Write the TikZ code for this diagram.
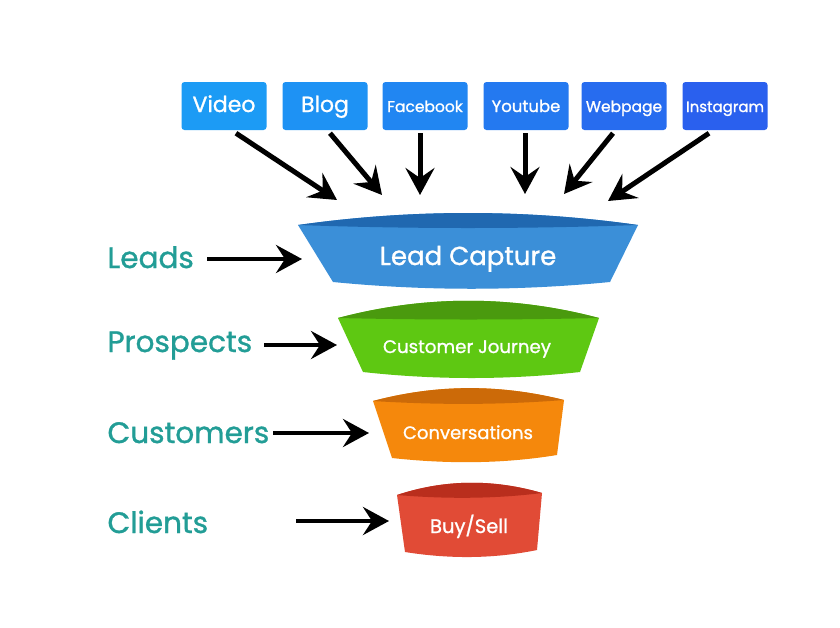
\documentclass[tikz,border=0pt]{standalone}
\usepackage{fontspec}
\setmainfont{Poppins}[FakeBold=1.1]
\usetikzlibrary{arrows.meta,calc}
\definecolor{c1}{RGB}{28,155,245}
\definecolor{c2}{RGB}{30,146,244}
\definecolor{c3}{RGB}{33,134,242}
\definecolor{c4}{RGB}{36,121,240}
\definecolor{c5}{RGB}{39,108,239}
\definecolor{c6}{RGB}{42,96,238}
\definecolor{blueBody}{RGB}{59,143,216}
\definecolor{blueTop}{RGB}{32,104,176}
\definecolor{greenBody}{RGB}{94,200,18}
\definecolor{greenTop}{RGB}{74,154,14}
\definecolor{orangeBody}{RGB}{245,136,12}
\definecolor{orangeTop}{RGB}{204,106,8}
\definecolor{redBody}{RGB}{225,75,54}
\definecolor{redTop}{RGB}{185,46,29}
\definecolor{teal}{RGB}{34,157,150}
\begin{document}
\begin{tikzpicture}[x=1pt,y=-1pt,
  srcbox/.style={fill=#1, rounded corners=3pt, minimum width=85pt, minimum height=48pt,
     text=white, inner sep=0pt, text height=14pt, text depth=2pt},
  toparr/.style={line width=5pt, -{Stealth[length=27pt,width=29pt,inset=10pt]}},
  sidearr/.style={line width=4pt, -{Stealth[length=26pt,width=28pt,inset=9pt]}},
  stage/.style={text=teal, anchor=base west, font=\fontsize{29.5}{30}\selectfont},
  flabel/.style={text=white, anchor=base}
]
\useasboundingbox (0,0) rectangle (840,627);
\fill[white] (0,0) rectangle (840,627);

% source boxes
\node[srcbox=c1, font=\fontsize{22}{22}\selectfont] (video) at (224,106) {Video};
\node[srcbox=c2, font=\fontsize{22}{22}\selectfont] (blog) at (325,106) {Blog};
\node[srcbox=c3, font=\fontsize{15.5}{16}\selectfont] (fb) at (425,106) {Facebook};
\node[srcbox=c4, font=\fontsize{16.5}{17}\selectfont] (yt) at (526,106) {Youtube};
\node[srcbox=c5, font=\fontsize{15.5}{16}\selectfont] (wp) at (624,106) {Webpage};
\node[srcbox=c6, font=\fontsize{15}{16}\selectfont] (ig) at (725,106) {Instagram};

% funnel segment 1
\fill[blueBody] (298,225) -- (333,282) .. controls (425,291) and (518,291) .. (610,282)
   -- (638,225) .. controls (525,209) and (411,209) .. (298,225) -- cycle;
\fill[blueTop] (298,225) .. controls (411,209) and (525,209) .. (638,225)
   .. controls (525,229) and (411,229) .. (298,225) -- cycle;
% funnel segment 2
\fill[greenBody] (338,318) -- (363,372) .. controls (435,380) and (508,380) .. (580,372)
   -- (599,318) .. controls (512,295) and (425,295) .. (338,318) -- cycle;
\fill[greenTop] (338,318) .. controls (425,295) and (512,295) .. (599,318)
   .. controls (512,320) and (425,320) .. (338,318) -- cycle;
% funnel segment 3
\fill[orangeBody] (373,401) -- (392,458) .. controls (447,464) and (502,464) .. (557,455)
   -- (564,400) .. controls (500,384) and (437,384) .. (373,401) -- cycle;
\fill[orangeTop] (373,401) .. controls (437,384) and (500,384) .. (564,400)
   .. controls (500,405) and (437,405) .. (373,401) -- cycle;
% funnel segment 4
\fill[redBody] (397,495) -- (405,552) .. controls (449,559) and (493,559) .. (537,550)
   -- (542,493) .. controls (494,479) and (445,479) .. (397,495) -- cycle;
\fill[redTop] (397,495) .. controls (445,479) and (494,479) .. (542,493)
   .. controls (494,499) and (445,499) .. (397,495) -- cycle;

% funnel labels
\node[flabel, font=\fontsize{26}{26}\selectfont] (lead) at (468,265) {Lead Capture};
\node[flabel, font=\fontsize{18.2}{19}\selectfont] (journey) at (467,353) {Customer Journey};
\node[flabel, font=\fontsize{18}{19}\selectfont] (conv) at (468,439) {Conversations};
\node[flabel, font=\fontsize{19.5}{20}\selectfont] (buy) at (469,533) {Buy/Sell};

% stage labels
\node[stage] (leads) at (104,268) {Leads};
\node[stage] (prospects) at (104,352) {Prospects};
\node[stage] (customers) at (104,443) {Customers};
\node[stage] (clients) at (104,533) {Clients};

% arrow coordinates
\coordinate (tv) at (337,200);
\coordinate (tb) at (382,195);
\coordinate (tf) at (420,195);
\coordinate (ty) at (525,194);
\coordinate (tw) at (564,194);
\coordinate (ti) at (608,201);
\coordinate (s1) at (207,259); \coordinate (e1) at (302,259);
\coordinate (s2) at (264,345); \coordinate (e2) at (337,345);
\coordinate (s3) at (273,433); \coordinate (e3) at (369,433);
\coordinate (s4) at (296,521); \coordinate (e4) at (389,521);

\draw[toparr] ($(video.south)+(12,3)$) -- (tv);
\draw[toparr] ($(blog.south)+(5,3)$) -- (tb);
\draw[toparr] ($(fb.south)+(-5,3)$) -- (tf);
\draw[toparr] ($(yt.south)+(-1,3)$) -- (ty);
\draw[toparr] ($(wp.south)+(-11,3)$) -- (tw);
\draw[toparr] ($(ig.south)+(-16,3)$) -- (ti);

\draw[sidearr] (s1) -- (e1);
\draw[sidearr] (s2) -- (e2);
\draw[sidearr] (s3) -- (e3);
\draw[sidearr] (s4) -- (e4);
\end{tikzpicture}
\end{document}
